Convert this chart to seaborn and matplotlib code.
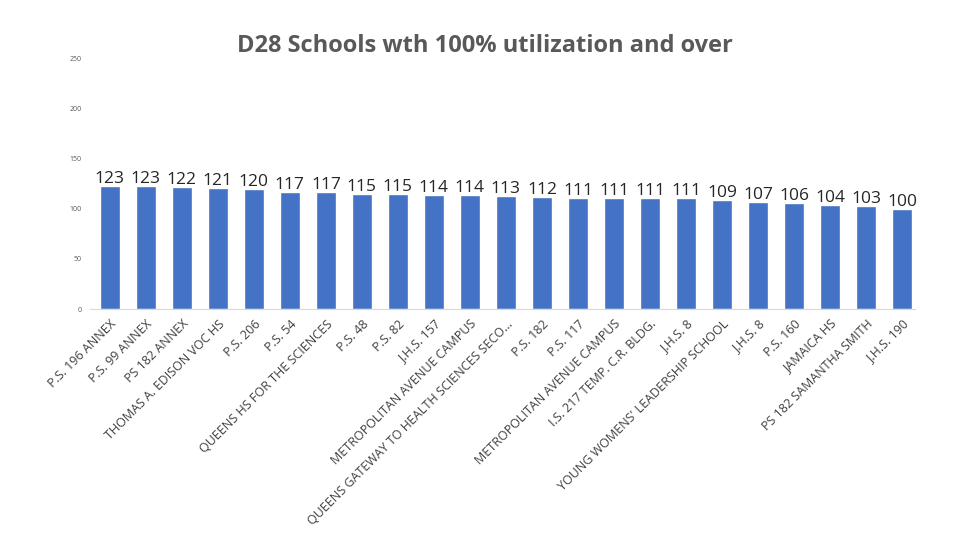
import matplotlib
matplotlib.use("Agg")
import matplotlib.pyplot as plt
import seaborn as sns
import pandas as pd

# -----------------------------------------------------
# DATA
# -----------------------------------------------------

schools = [
    "P.S. 196 ANNEX", "P.S. 99 ANNEX", "PS 182 ANNEX",
    "THOMAS A. EDISON VOC HS", "P.S. 206", "P.S. 54",
    "QUEENS HS FOR THE SCIENCES", "P.S. 48", "P.S. 82", "J.H.S. 157",
    "METROPOLITAN AVENUE CAMPUS",
    "QUEENS GATEWAY TO HEALTH SCIENCES SECO...",
    "P.S. 182", "P.S. 117", "METROPOLITAN AVENUE CAMPUS",
    "I.S. 217 TEMP. C.R. BLDG.", "J.H.S. 8",
    "YOUNG WOMENS' LEADERSHIP SCHOOL", "J.H.S. 8", "P.S. 160",
    "JAMAICA HS", "PS 182 SAMANTHA SMITH", "J.H.S. 190",
]
utilization = [123, 123, 122, 121, 120, 117, 117, 115, 115, 114, 114, 113,
               112, 111, 111, 111, 111, 109, 107, 106, 104, 103, 100]
y_ticks = [0, 50, 100, 150, 200, 250]

# some names repeat, so bars are placed by position
df = pd.DataFrame({"pos": list(range(len(schools))), "value": utilization})

# -----------------------------------------------------
# PLOT
# -----------------------------------------------------

sns.set_style("white")
plt.rcParams['font.family'] = ['Open Sans', 'DejaVu Sans']

fig = plt.figure(figsize=(9.6, 5.4), dpi=100)
ax = fig.add_axes([90 / 960, 1 - 309 / 540, 825 / 960, 250 / 540])

sns.barplot(data=df, x="pos", y="value", color="#4472C4", width=0.56,
            saturation=1, ax=ax)

for i, v in enumerate(utilization):
    ax.text(i, v - 1.5, str(v), ha="center", va="bottom",
            fontsize=12.5, color="#262626")

ax.set_ylim(0, 250)
ax.set_xlim(-0.55, len(schools) - 1 + 0.36)
ax.set_yticks(y_ticks)
ax.set_yticklabels([str(t) for t in y_ticks], fontsize=5, color="#595959")
ax.set_xticks(range(len(schools)))
ax.set_xticklabels(schools, rotation=45, ha="right", rotation_mode="anchor",
                   fontsize=9, color="#404040")
ax.tick_params(axis="both", length=0, pad=6)
ax.set_xlabel("")
ax.set_ylabel("")

for side in ["top", "right", "left"]:
    ax.spines[side].set_visible(False)
ax.spines["bottom"].set_color("#D9D9D9")

fig.text(485 / 960, 1 - 46 / 540, "D28 Schools wth 100% utilization and over",
         ha="center", va="center", fontsize=17, fontweight="bold",
         color="#595959")

fig.savefig("out.png", dpi=100)
print("[OK] Saved: out.png")
